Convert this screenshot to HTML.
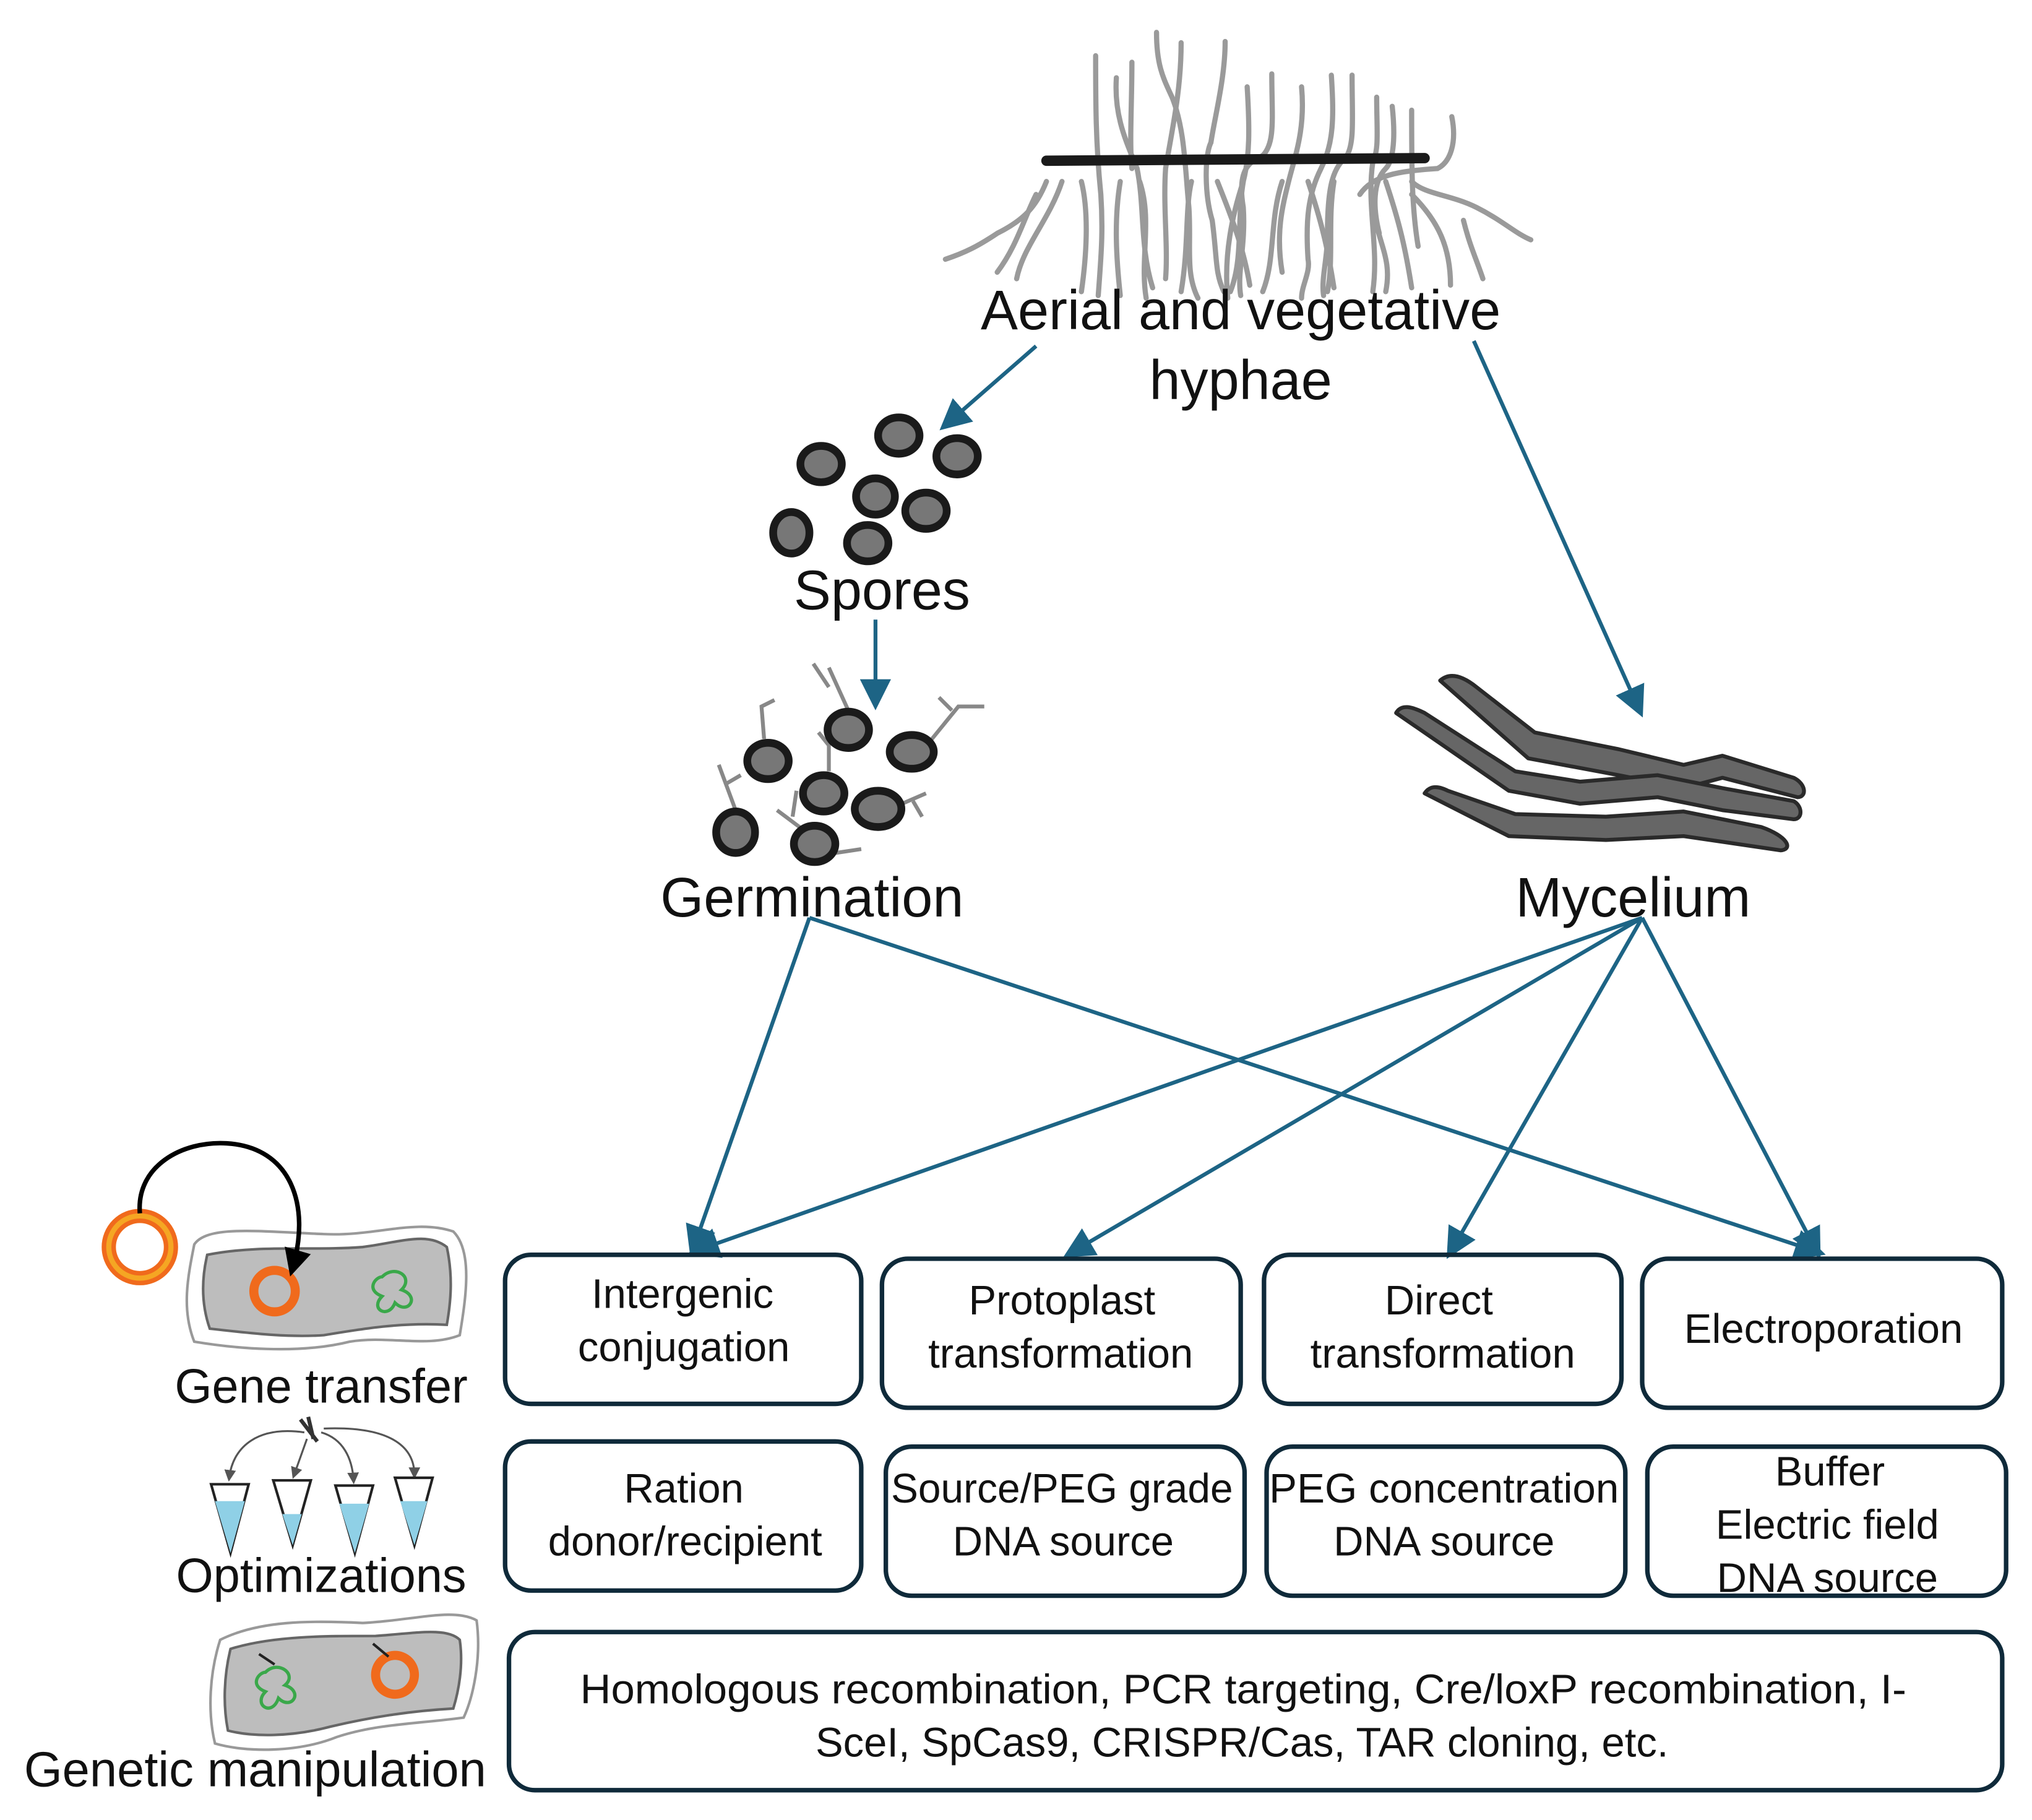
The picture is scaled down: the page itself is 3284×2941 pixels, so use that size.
<!DOCTYPE html>
<html><head><meta charset="utf-8"><style>
html,body{margin:0;padding:0;background:#fff;width:3284px;height:2941px;overflow:hidden}
svg{display:block}
text{font-family:"Liberation Sans","DejaVu Sans",sans-serif;fill:#111}
</style></head><body>
<svg width="3284" height="2941" viewBox="0 0 1569 1404" preserveAspectRatio="none" xmlns="http://www.w3.org/2000/svg">
<defs>
<marker id="ah" markerWidth="8" markerHeight="8" refX="6" refY="4" orient="auto" markerUnits="strokeWidth">
<path d="M0,0 L8,4 L0,8 z" fill="#1d6485"/></marker>
<marker id="bh" markerWidth="6" markerHeight="6" refX="4" refY="3" orient="auto" markerUnits="strokeWidth">
<path d="M0,0 L6,3 L0,6 z" fill="#000"/></marker>
<marker id="gh" markerWidth="6" markerHeight="6" refX="4" refY="3" orient="auto" markerUnits="strokeWidth">
<path d="M0,0 L6,3 L0,6 z" fill="#555"/></marker>
</defs>

<!-- hyphae -->
<g fill="none" stroke="#9a9a9a" stroke-width="4" stroke-linecap="round">
<path d="M846,43 C846,80 846,110 850,150 C852,180 850,200 848,228"/>
<path d="M862,60 C860,90 870,110 878,130 C884,160 880,190 890,222"/>
<path d="M874,48 C874,80 872,110 874,130"/>
<path d="M893,25 C893,50 898,60 905,75 C915,100 915,130 918,160 C920,190 915,210 925,230"/>
<path d="M912,33 C912,70 905,100 900,130 C898,160 902,190 900,215"/>
<path d="M946,32 C946,60 938,90 935,110 C930,120 930,150 936,170 C940,200 938,210 945,225"/>
<path d="M963,67 C965,100 965,120 960,140 C955,170 960,200 950,225"/>
<path d="M982,57 C982,90 985,110 975,120 C965,125 955,130 960,160 C962,190 955,210 958,228"/>
<path d="M1005,67 C1008,100 1000,120 995,140 C990,160 985,180 990,210"/>
<path d="M1028,58 C1030,90 1030,110 1020,130 C1010,150 1008,170 1010,200 C1012,210 1005,220 1005,230"/>
<path d="M1044,58 C1044,90 1046,110 1040,120 C1030,130 1025,140 1025,180 C1025,200 1020,215 1022,228"/>
<path d="M1063,75 C1063,100 1065,115 1060,125 C1055,160 1065,190 1060,225"/>
<path d="M1090,85 C1090,130 1090,160 1095,190"/>
<path d="M1121,90 C1125,110 1120,125 1110,130 C1080,132 1060,135 1050,150"/>
<path d="M1075,82 C1078,110 1075,125 1070,130 C1060,140 1060,160 1065,180"/>
<path d="M808,140 C800,160 790,170 770,180 C755,190 745,195 730,200"/>
<path d="M800,150 C790,170 785,190 770,210"/>
<path d="M820,140 C810,170 790,190 785,215"/>
<path d="M835,140 C840,160 840,190 835,225"/>
<path d="M865,140 C860,170 862,200 865,228"/>
<path d="M880,140 C890,170 880,200 885,230"/>
<path d="M920,140 C915,160 918,190 912,225"/>
<path d="M940,140 C950,165 960,190 965,220"/>
<path d="M960,140 C950,170 945,200 948,230"/>
<path d="M990,140 C980,170 985,200 975,225"/>
<path d="M1010,140 C1020,170 1025,190 1030,222"/>
<path d="M1030,140 C1025,170 1030,200 1025,225"/>
<path d="M1070,140 C1080,170 1085,190 1090,222"/>
<path d="M1090,140 C1100,150 1120,150 1140,160 C1160,170 1170,180 1182,185"/>
<path d="M1090,150 C1110,170 1120,190 1120,220"/>
<path d="M1130,170 C1135,190 1140,200 1145,215"/>
<path d="M1060,160 C1065,190 1075,200 1070,225"/>
</g>
<path d="M808,124 L1100,122" stroke="#1a1a1a" stroke-width="8" stroke-linecap="round"/>

<!-- arrows -->
<g stroke="#1d6485" stroke-width="3" fill="none" marker-end="url(#ah)">
<path d="M800,267 L730,328"/>
<path d="M1138,263 L1266,548"/>
<path d="M676,478 L676,542"/>
<path d="M625,708 L535,964"/>
<path d="M625,708 L1404,966"/>
<path d="M1268,708 L537,965"/>
<path d="M1268,708 L826,967"/>
<path d="M1268,708 L1120,966"/>
<path d="M1268,708 L1403,966"/>
</g>

<!-- spores -->
<g fill="#777" stroke="#1a1a1a" stroke-width="6">
<ellipse cx="634" cy="358" rx="16" ry="14"/><ellipse cx="694" cy="336" rx="16" ry="14"/>
<ellipse cx="739" cy="352" rx="16" ry="14"/><ellipse cx="676" cy="383" rx="15" ry="14"/>
<ellipse cx="715" cy="394" rx="16" ry="14"/><ellipse cx="611" cy="411" rx="14" ry="16"/>
<ellipse cx="670" cy="419" rx="16" ry="14"/>
</g>
<!-- germination -->
<g fill="none" stroke="#888" stroke-width="3">
<path d="M655,548 L640,515 M640,530 L628,512"/>
<path d="M718,572 L740,545 L760,545 M735,548 L725,538"/>
<path d="M590,570 L588,545 L598,540"/>
<path d="M568,625 L555,590 M560,605 L572,598"/>
<path d="M620,640 L600,625 M612,630 L615,610"/>
<path d="M645,658 L665,655"/>
<path d="M692,622 L715,612 M705,618 L712,630"/>
<path d="M640,595 L640,575 L632,565"/>
</g>
<g fill="#777" stroke="#1a1a1a" stroke-width="6">
<ellipse cx="593" cy="587" rx="16" ry="14"/><ellipse cx="655" cy="563" rx="16" ry="14"/>
<ellipse cx="704" cy="580" rx="17" ry="13"/><ellipse cx="636" cy="612" rx="16" ry="14"/>
<ellipse cx="678" cy="624" rx="18" ry="14"/><ellipse cx="568" cy="642" rx="15" ry="16"/>
<ellipse cx="629" cy="651" rx="16" ry="14"/>
</g>
<!-- mycelium -->
<g fill="#666" stroke="#2a2a2a" stroke-width="3" stroke-linejoin="round" stroke-linecap="round">
<path d="M1112,525 C1120,518 1130,522 1140,530 L1185,565 L1250,578 L1300,590 L1330,583 L1385,600 C1395,605 1395,615 1388,615 L1330,600 L1300,608 L1250,598 L1180,585 Z"/>
<path d="M1078,550 C1082,543 1090,545 1100,550 L1170,595 L1220,603 L1280,598 L1330,608 L1385,618 C1392,622 1392,632 1385,632 L1330,625 L1280,615 L1220,620 L1165,610 Z"/>
<path d="M1100,612 C1104,606 1110,606 1118,610 L1170,628 L1240,630 L1300,626 L1360,638 C1380,645 1385,655 1375,656 L1300,645 L1240,648 L1165,645 Z"/>
</g>

<!-- labels -->
<g font-size="43" text-anchor="middle">
<text x="958" y="254">Aerial and vegetative</text>
<text x="958" y="308">hyphae</text>
<text x="681" y="470">Spores</text>
<text x="627" y="707">Germination</text>
<text x="1261" y="707">Mycelium</text>
</g>

<!-- boxes -->
<g fill="none" stroke="#0f2a3a" stroke-width="3.5">
<rect x="390" y="968" width="275" height="115" rx="20"/>
<rect x="681" y="971" width="277" height="115" rx="20"/>
<rect x="976" y="968" width="276" height="115" rx="20"/>
<rect x="1268" y="971" width="278" height="115" rx="20"/>
<rect x="390" y="1112" width="275" height="115" rx="20"/>
<rect x="684" y="1116" width="277" height="115" rx="20"/>
<rect x="978" y="1116" width="277" height="115" rx="20"/>
<rect x="1272" y="1116" width="277" height="115" rx="20"/>
<rect x="393" y="1259" width="1153" height="122" rx="20"/>
</g>
<g font-size="32" text-anchor="middle">
<text x="527" y="1009">Intergenic</text><text x="528" y="1050">conjugation</text>
<text x="820" y="1014">Protoplast</text><text x="819" y="1055">transformation</text>
<text x="1111" y="1014">Direct</text><text x="1114" y="1055">transformation</text>
<text x="1408" y="1036">Electroporation</text>
<text x="528" y="1159">Ration</text><text x="529" y="1200">donor/recipient</text>
<text x="820" y="1159" textLength="264" lengthAdjust="spacingAndGlyphs">Source/PEG grade</text><text x="821" y="1200">DNA source</text>
<text x="1115" y="1159" textLength="270" lengthAdjust="spacingAndGlyphs">PEG concentration</text><text x="1115" y="1200">DNA source</text>
<text x="1413" y="1146">Buffer</text><text x="1411" y="1187">Electric field</text><text x="1411" y="1228">DNA source</text>
<text x="960" y="1314" textLength="1024" lengthAdjust="spacingAndGlyphs">Homologous recombination, PCR targeting, Cre/loxP recombination, I-</text>
<text x="959" y="1355">SceI, SpCas9, CRISPR/Cas, TAR cloning, etc.</text>
</g>

<!-- left icons -->
<g font-size="37" text-anchor="middle">
<text x="248" y="1082">Gene transfer</text>
<text x="248" y="1228">Optimizations</text>
<text x="197" y="1378" font-size="38">Genetic manipulation</text>
</g>
<circle cx="108" cy="962" r="24" fill="#fff" stroke="#f06a1c" stroke-width="11"/>
<circle cx="108" cy="962" r="24" fill="none" stroke="#f5a623" stroke-width="4"/>
<path d="M150,960 C160,945 200,950 250,952 C290,954 320,940 350,950 C365,965 360,1000 355,1030 C330,1040 300,1030 270,1035 C230,1045 180,1040 150,1035 C140,1010 145,985 150,960 Z" fill="#fff" stroke="#999" stroke-width="2"/>
<path d="M160,968 C200,960 240,965 280,962 C310,958 330,950 345,962 C350,985 348,1005 345,1022 C310,1020 280,1025 250,1030 C220,1032 190,1028 162,1025 C155,1005 156,985 160,968 Z" fill="#bdbdbd" stroke="#666" stroke-width="2"/>
<circle cx="212" cy="996" r="16" fill="none" stroke="#f06a1c" stroke-width="7"/>
<path d="M295,985 C305,975 320,985 310,995 C325,1000 315,1015 305,1005 C300,1018 285,1010 295,1000 C282,995 290,985 295,985 Z" fill="none" stroke="#3aa84a" stroke-width="2.5"/>
<path d="M108,936 C105,900 140,880 175,882 C225,885 240,930 226,978" fill="none" stroke="#000" stroke-width="3.5" marker-end="url(#bh)"/>
<!-- tubes -->
<g fill="none" stroke="#555" stroke-width="1.5">
<path d="M235,1105 C200,1100 180,1115 177,1140" marker-end="url(#gh)"/>
<path d="M237,1110 L227,1138" marker-end="url(#gh)"/>
<path d="M248,1105 C265,1110 272,1125 273,1142" marker-end="url(#gh)"/>
<path d="M250,1102 C300,1100 320,1115 320,1138" marker-end="url(#gh)"/>
</g>
<path d="M232,1095 L245,1112 M238,1093 L242,1110" stroke="#333" stroke-width="3"/>
<g stroke="#222" stroke-width="2">
<path d="M163,1145 L192,1145 L178,1198 Z" fill="#fff"/><path d="M166,1158 L189,1158 L178,1198 Z" fill="#8fd0e6" stroke="none"/>
<path d="M211,1142 L240,1142 L226,1192 Z" fill="#fff"/><path d="M218,1168 L233,1168 L226,1192 Z" fill="#8fd0e6" stroke="none"/>
<path d="M259,1146 L288,1146 L274,1198 Z" fill="#fff"/><path d="M262,1160 L285,1160 L274,1198 Z" fill="#8fd0e6" stroke="none"/>
<path d="M305,1140 L334,1140 L320,1192 Z" fill="#fff"/><path d="M309,1158 L330,1158 L320,1192 Z" fill="#8fd0e6" stroke="none"/>
</g>
<!-- second cell -->
<path d="M170,1265 C200,1250 240,1250 280,1252 C320,1250 350,1240 368,1250 C372,1280 365,1310 358,1325 C320,1330 290,1330 260,1340 C230,1352 190,1352 166,1345 C160,1320 162,1290 170,1265 Z" fill="#fff" stroke="#999" stroke-width="2"/>
<path d="M178,1272 C210,1262 250,1262 290,1262 C320,1260 345,1255 355,1265 C358,1285 354,1305 350,1318 C315,1320 285,1325 255,1332 C225,1340 195,1340 176,1335 C172,1315 173,1292 178,1272 Z" fill="#bdbdbd" stroke="#666" stroke-width="2"/>
<circle cx="305" cy="1292" r="15" fill="none" stroke="#f06a1c" stroke-width="7"/>
<path d="M205,1290 C215,1280 230,1292 220,1300 C235,1305 225,1320 215,1310 C210,1325 195,1315 205,1305 C192,1300 200,1290 205,1290 Z" fill="none" stroke="#3aa84a" stroke-width="2.5"/>
<path d="M200,1276 L212,1284 M288,1268 L300,1278" stroke="#222" stroke-width="2"/>
</svg>
</body></html>
